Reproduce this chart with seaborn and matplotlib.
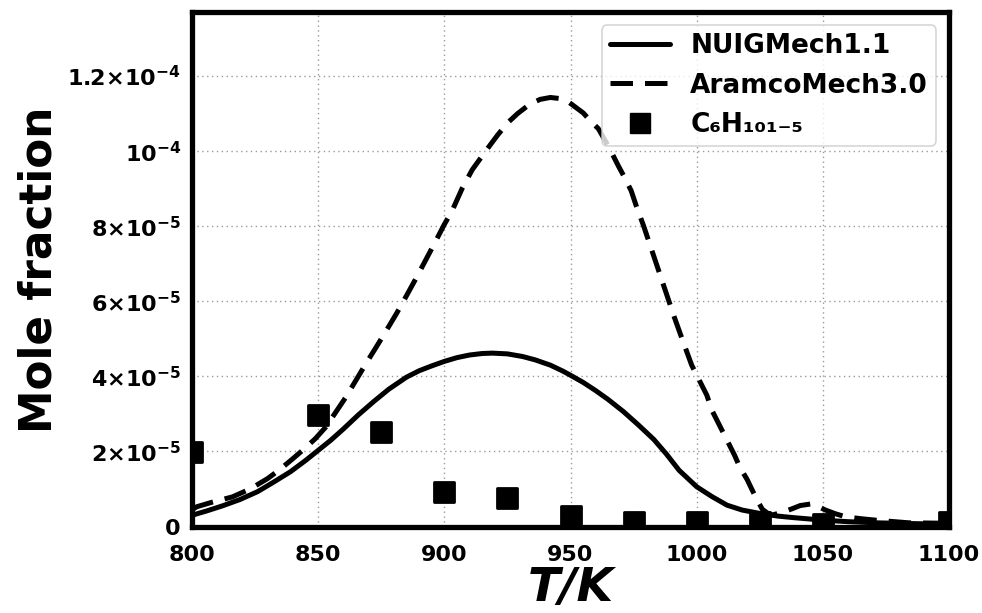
import matplotlib
matplotlib.use("Agg")
import matplotlib.pyplot as plt
import seaborn as sns
import pandas as pd
from matplotlib.lines import Line2D

# ---- data (mole fraction in units of 1e-5) ----
T_nuig = [800, 806, 812, 819, 826, 832, 839, 845, 850, 855, 860, 866, 872, 878, 885,
          890, 895, 900, 905, 910, 915, 919, 925, 931, 936, 942, 947, 950, 955, 960,
          965, 971, 977, 983, 988, 993, 1000, 1006, 1012, 1018, 1025, 1032, 1038,
          1045, 1050, 1060, 1071, 1085, 1100]
y_nuig = [0.30, 0.42, 0.55, 0.72, 0.93, 1.17, 1.46, 1.76, 2.03, 2.3, 2.6, 2.98, 3.33,
          3.66, 3.98, 4.15, 4.28, 4.4, 4.5, 4.57, 4.61, 4.62, 4.6, 4.53, 4.44, 4.3,
          4.14, 4.03, 3.84, 3.62, 3.38, 3.06, 2.7, 2.32, 1.93, 1.5, 1.06, 0.8, 0.57,
          0.44, 0.35, 0.28, 0.24, 0.2, 0.17, 0.13, 0.1, 0.08, 0.06]

T_aramco = [800, 802, 808, 816, 823, 830, 835, 840, 845, 849, 853, 857, 861, 865, 869,
            873, 877, 881, 885, 889, 893, 896, 900, 903, 907, 911, 914, 918, 921, 925,
            929, 934, 938, 942, 946, 949, 952, 955, 958, 961, 964, 966, 969, 971, 974,
            976, 979, 984, 988, 991, 995, 998, 1001, 1004, 1006, 1009, 1012, 1015,
            1017, 1020, 1022, 1024, 1026, 1028, 1030, 1034, 1038, 1041, 1045, 1048,
            1051, 1055, 1059, 1065, 1071, 1084, 1097, 1100]
y_aramco = [0.45, 0.53, 0.65, 0.79, 1.0, 1.28, 1.53, 1.81, 2.1, 2.35, 2.65, 3.05, 3.45,
            3.9, 4.35, 4.78, 5.22, 5.67, 6.15, 6.64, 7.15, 7.53, 8.05, 8.4, 9.0, 9.5,
            9.78, 10.15, 10.42, 10.75, 11.0, 11.26, 11.38, 11.43, 11.4, 11.32, 11.17,
            11.02, 10.8, 10.6, 10.25, 10.0, 9.6, 9.35, 8.95, 8.55, 8.0, 7.0, 6.2, 5.6,
            4.85, 4.3, 3.9, 3.5, 3.1, 2.7, 2.3, 1.9, 1.59, 1.25, 0.97, 0.7, 0.46, 0.36,
            0.31, 0.38, 0.48, 0.56, 0.6, 0.54, 0.44, 0.34, 0.26, 0.21, 0.17, 0.1, 0.09,
            0.08]

T_exp = [800, 850, 875, 900, 925, 950, 975, 1000, 1025, 1050, 1100]
y_exp = [1.99, 2.97, 2.52, 0.93, 0.75, 0.27, 0.12, 0.12, 0.13, 0.08, 0.12]

scale = 1e-5
x_ticks = [800, 850, 900, 950, 1000, 1050, 1100]
y_ticks = [0, 2e-5, 4e-5, 6e-5, 8e-5, 1e-4, 1.2e-4]
y_ticklabels = ["0", r"$\mathbf{2{\times}10^{-5}}$", r"$\mathbf{4{\times}10^{-5}}$",
                r"$\mathbf{6{\times}10^{-5}}$", r"$\mathbf{8{\times}10^{-5}}$",
                r"$\mathbf{10^{-4}}$", r"$\mathbf{1.2{\times}10^{-4}}$"]
labels = ["NUIGMech1.1", "AramcoMech3.0", "C₆H₁₀₁₋₅"]

sns.set_theme(style="whitegrid")
plt.rcParams["font.family"] = ["DejaVu Sans"]
plt.rcParams["mathtext.default"] = "bf"
for k in ["text.color", "axes.labelcolor", "xtick.color", "ytick.color"]:
    plt.rcParams[k] = "black"

df_n = pd.DataFrame({"T": T_nuig, "X": [v * scale for v in y_nuig]})
df_a = pd.DataFrame({"T": T_aramco, "X": [v * scale for v in y_aramco]})
df_e = pd.DataFrame({"T": T_exp, "X": [v * scale for v in y_exp]})

fig = plt.figure(figsize=(9.82, 6.13), dpi=100)
ax = fig.add_axes([0.1955, 0.141, 0.771, 0.839])

sns.lineplot(data=df_n, x="T", y="X", ax=ax, color="black", linewidth=3.6,
             linestyle="-", estimator=None, sort=False)
sns.lineplot(data=df_a, x="T", y="X", ax=ax, color="black", linewidth=3.6,
             estimator=None, sort=False)
ax.lines[-1].set_dashes([4.5, 2.4])
sns.scatterplot(data=df_e, x="T", y="X", ax=ax, marker="s", s=220, color="black",
                edgecolor="black", linewidth=2.0, zorder=5)

ax.set_xlim(800, 1100)
ax.set_ylim(0, 1.37e-4)
ax.set_xticks(x_ticks)
ax.set_xticklabels([str(t) for t in x_ticks], fontsize=16, fontweight="bold")
ax.set_yticks(y_ticks)
ax.set_yticklabels(y_ticklabels, fontsize=16, fontweight="bold")
ax.tick_params(axis="x", length=0, pad=13)
ax.tick_params(axis="y", length=0, pad=8)

ax.grid(True, color="#9a9a9a", linestyle=(0, (1, 2.5)), linewidth=1.0)
for sp in ax.spines.values():
    sp.set_color("black")
    sp.set_linewidth(3.8)
    sp.set_visible(True)

ax.set_xlabel("T/K", fontsize=34, fontweight="bold", style="italic", labelpad=1)
ax.set_ylabel("Mole fraction", fontsize=31.5, fontweight="bold", labelpad=5)

handles = [Line2D([], [], color="black", lw=3.6, linestyle="-"),
           Line2D([], [], color="black", lw=3.6, dashes=[4.5, 2.4]),
           Line2D([], [], color="black", marker="s", markersize=15, linestyle="none")]
leg = ax.legend(handles, labels, loc="upper right", prop={"weight": "bold", "size": 19},
                frameon=True, fancybox=True, handlelength=2.3, borderaxespad=0.5,
                labelspacing=0.5, borderpad=0.3, handletextpad=0.75)
leg.get_frame().set_edgecolor("#cccccc")
leg.get_frame().set_linewidth(1.2)

fig.savefig("out.png", dpi=100)
